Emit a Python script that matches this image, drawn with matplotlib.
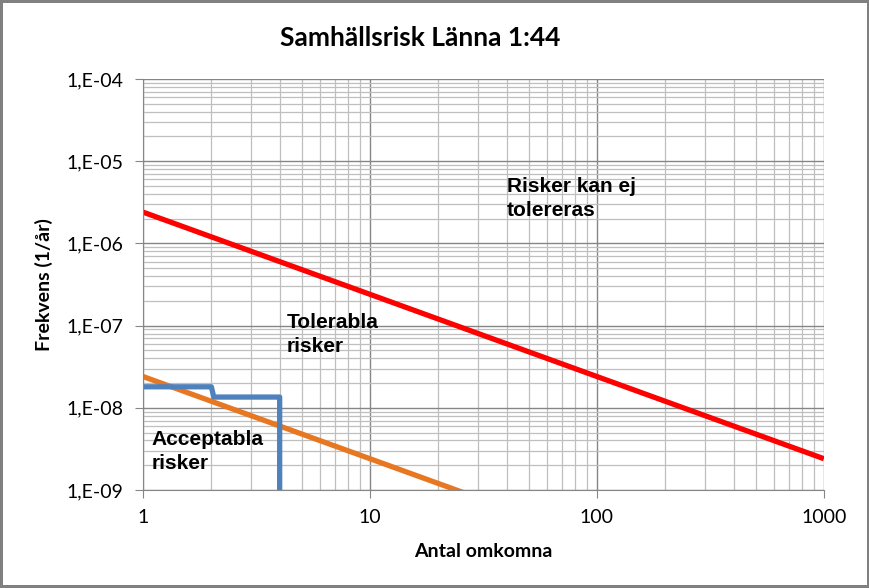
import matplotlib
matplotlib.use("Agg")
import matplotlib.pyplot as plt
from matplotlib.ticker import LogLocator, FixedLocator, NullFormatter

# upper / lower criteria lines (slope -1)
n_crit = [1, 1000]
upper_crit = [2.4e-6, 2.4e-9]
lower_crit = [2.4e-8, 2.4e-11]

# F/N curve (steps)
n_risk = [1, 2, 2.05, 4, 4]
f_risk = [1.8e-8, 1.8e-8, 1.35e-8, 1.35e-8, 1e-9]

y_ticks = [1e-9, 1e-8, 1e-7, 1e-6, 1e-5, 1e-4]
y_labels = ["1,E-09", "1,E-08", "1,E-07", "1,E-06", "1,E-05", "1,E-04"]
x_ticks = [1, 10, 100, 1000]
x_labels = ["1", "10", "100", "1000"]

tick_font = "Lato"
note_font = "Liberation Sans"

fig = plt.figure(figsize=(8.7, 5.88), dpi=100, edgecolor="#808080", linewidth=3)
ax = fig.add_axes([0.1644, 0.1667, 0.7826, 0.699])

ax.set_xscale("log")
ax.set_yscale("log")
ax.set_xlim(1, 1000)
ax.set_ylim(1e-9, 1e-4)

ax.xaxis.set_major_locator(FixedLocator(x_ticks))
ax.yaxis.set_major_locator(FixedLocator(y_ticks))
ax.xaxis.set_minor_locator(LogLocator(base=10, subs=range(2, 10)))
ax.yaxis.set_minor_locator(LogLocator(base=10, subs=range(2, 10)))
ax.xaxis.set_minor_formatter(NullFormatter())
ax.yaxis.set_minor_formatter(NullFormatter())
ax.set_xticklabels(x_labels, fontfamily=tick_font, fontsize=14)
ax.set_yticklabels(y_labels, fontfamily=tick_font, fontsize=14)

ax.grid(which="major", color="#868686", linewidth=1.0)
ax.grid(which="minor", color="#bfbfbf", linewidth=0.9)
ax.set_axisbelow(True)
ax.tick_params(which="major", length=6, color="#868686", pad=8)
ax.tick_params(which="minor", length=0)
for side in ["top", "right"]:
    ax.spines[side].set_visible(False)
for side in ["left", "bottom"]:
    ax.spines[side].set_color("#868686")

ax.plot(n_crit, upper_crit, color="#ff0000", linewidth=3.8, solid_capstyle="butt")
ax.plot(n_crit, lower_crit, color="#e87722", linewidth=3.8, solid_capstyle="butt")
ax.plot(n_risk, f_risk, color="#4f81bd", linewidth=3.8, solid_capstyle="butt")

ax.text(40, 6.4e-6, "Risker kan ej\ntolereras", fontfamily=note_font,
        fontweight="bold", fontsize=15, va="top", linespacing=1.33)
ax.text(4.3, 1.44e-7, "Tolerabla\nrisker", fontfamily=note_font,
        fontweight="bold", fontsize=15, va="top", linespacing=1.33)
ax.text(1.09, 5.3e-9, "Acceptabla\nrisker", fontfamily=note_font,
        fontweight="bold", fontsize=15, va="top", linespacing=1.33)

ax.set_xlabel("Antal omkomna", fontfamily=tick_font, fontweight="bold", fontsize=14, labelpad=12)
ax.set_ylabel("Frekvens (1/år)", fontfamily=tick_font, fontweight="bold", fontsize=14, labelpad=10)
fig.suptitle("Samhällsrisk Länna 1:44", fontfamily=tick_font, fontweight="bold",
             fontsize=19, x=0.483, y=0.955)

fig.savefig("out.png", dpi=100, edgecolor=fig.get_edgecolor())
